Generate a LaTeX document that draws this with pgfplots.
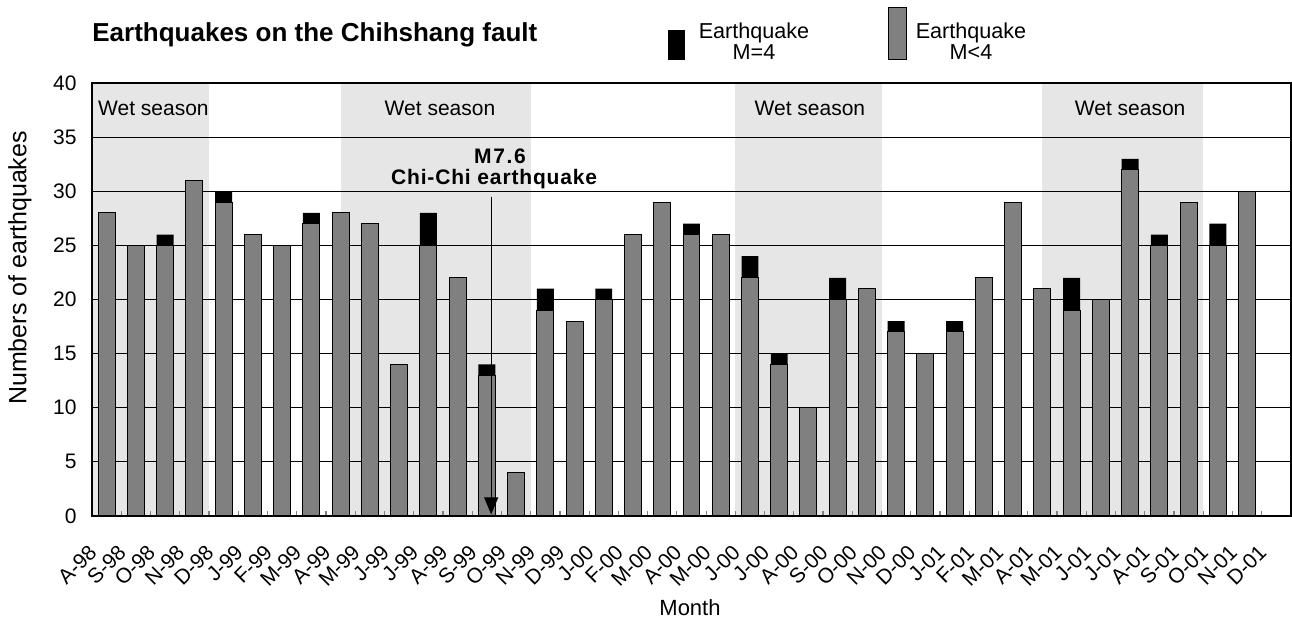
\documentclass[border=0pt]{standalone}
\usepackage{fontspec}
\setmainfont{Liberation Sans}
\usepackage{pgfplots}
\pgfplotsset{compat=1.18}
\usepackage{pgfplotstable}
\usetikzlibrary{arrows.meta}

\definecolor{bargray}{RGB}{128,128,128}
\definecolor{wetgray}{RGB}{230,230,230}

% monthly counts: small = M<4, big = M=4
\pgfplotstableread{
x small big
0 28 0
1 25 0
2 25 1
3 31 0
4 29 1
5 26 0
6 25 0
7 27 1
8 28 0
9 27 0
10 14 0
11 25 3
12 22 0
13 13 1
14 4 0
15 19 2
16 18 0
17 20 1
18 26 0
19 29 0
20 26 1
21 26 0
22 22 2
23 14 1
24 10 0
25 20 2
26 21 0
27 17 1
28 15 0
29 17 1
30 22 0
31 29 0
32 21 0
33 19 3
34 20 0
35 32 1
36 25 1
37 29 0
38 25 2
39 30 0
}\quakes

\pgfplotsset{frame/.style={
  at={(0,0)}, anchor=south west,
  scale only axis,
  width=599.5pt, height=216.5pt,
  xmin=-0.5, xmax=40.5, ymin=0, ymax=40}}

\begin{document}
\begin{tikzpicture}
% wet season bands behind everything
\begin{axis}[frame, hide axis]
  \fill[wetgray] (axis cs:-0.5,0) rectangle (axis cs:3.5,40);
  \fill[wetgray] (axis cs:8,0) rectangle (axis cs:14.5,40);
  \fill[wetgray] (axis cs:21.5,0) rectangle (axis cs:26.5,40);
  \fill[wetgray] (axis cs:32,0) rectangle (axis cs:37.5,40);
\end{axis}

\begin{axis}[
  frame,
  ybar stacked, bar width=0.58,
  xtick={0,...,40},
  xticklabels={A-98,S-98,O-98,N-98,D-98,J-99,F-99,M-99,A-99,M-99,J-99,J-99,A-99,S-99,O-99,N-99,D-99,J-00,F-00,M-00,A-00,M-00,J-00,J-00,A-00,S-00,O-00,N-00,D-00,J-01,F-01,M-01,A-01,M-01,J-01,J-01,A-01,S-01,O-01,N-01,D-01},
  minor xtick={0.5,1.5,...,39.5},
  ytick={0,5,...,40},
  major tick length=0pt, minor tick length=2.5pt,
  tick align=inside, xtick pos=bottom, ytick pos=left,
  ymajorgrids, grid style={black, line width=0.5pt},
  axis line style={line width=0.8pt},
  minor tick style={line width=0.6pt},
  xticklabel style={font=\fontsize{10.5}{11}\selectfont, xshift=-9.5pt, yshift=-13.5pt, rotate=45, anchor=north east, inner sep=0pt},
  yticklabel style={font=\fontsize{10.5}{11}\selectfont, inner sep=0pt, xshift=-7.5pt},
  /pgf/number format/assume math mode=true,
]
\addplot[fill=bargray, draw=black, line width=0.5pt] table[x=x, y=small] {\quakes};
\addplot[fill=black, draw=none] table[x=x, y=big] {\quakes};

\node[font=\fontsize{10.5}{12}\selectfont] at (axis cs:1.6,37.7) {Wet season};
\node[font=\fontsize{10.5}{12}\selectfont] at (axis cs:11.4,37.7) {Wet season};
\node[font=\fontsize{10.5}{12}\selectfont] at (axis cs:24.05,37.7) {Wet season};
\node[font=\fontsize{10.5}{12}\selectfont] at (axis cs:35,37.7) {Wet season};
\end{axis}

% Chi-Chi annotation on top of the bars
\begin{axis}[frame, hide axis]
\node[font=\bfseries\fontsize{10.5}{12}\selectfont\addfontfeatures{LetterSpace=8}] at (axis cs:13.45,33.2) {M7.6};
\node[font=\bfseries\fontsize{10.5}{12}\selectfont\addfontfeatures{LetterSpace=4}] at (axis cs:13.25,31.1) {Chi-Chi earthquake};
\draw[line width=0.5pt, -{Triangle[width=7pt,length=8.5pt]}] (axis cs:13.15,29.5) -- (axis cs:13.15,0.15);
\end{axis}

% title, legend and axis names
\node[anchor=base west, inner sep=0pt, font=\bfseries\fontsize{13}{15}\selectfont] at (0pt,237pt) {Earthquakes on the Chihshang fault};
\fill[black] (288pt,228pt) rectangle (296.5pt,243pt);
\filldraw[fill=bargray, draw=black, line width=0.5pt] (398pt,228pt) rectangle (407pt,254pt);
\node[align=center, font=\fontsize{10.8}{10.5}\selectfont] at (331pt,237.25pt) {Earthquake\\M=4};
\node[align=center, font=\fontsize{10.8}{10.5}\selectfont] at (439.5pt,237.25pt) {Earthquake\\M<4};
\node[rotate=90, font=\fontsize{12.5}{14}\selectfont] at (-36pt,124pt) {Numbers of earthquakes};
\node[font=\fontsize{11}{12}\selectfont] at (299pt,-46pt) {Month};

\pgfresetboundingbox
\path (-46pt,-52.5pt) rectangle (600pt,258pt);
\end{tikzpicture}
\end{document}
